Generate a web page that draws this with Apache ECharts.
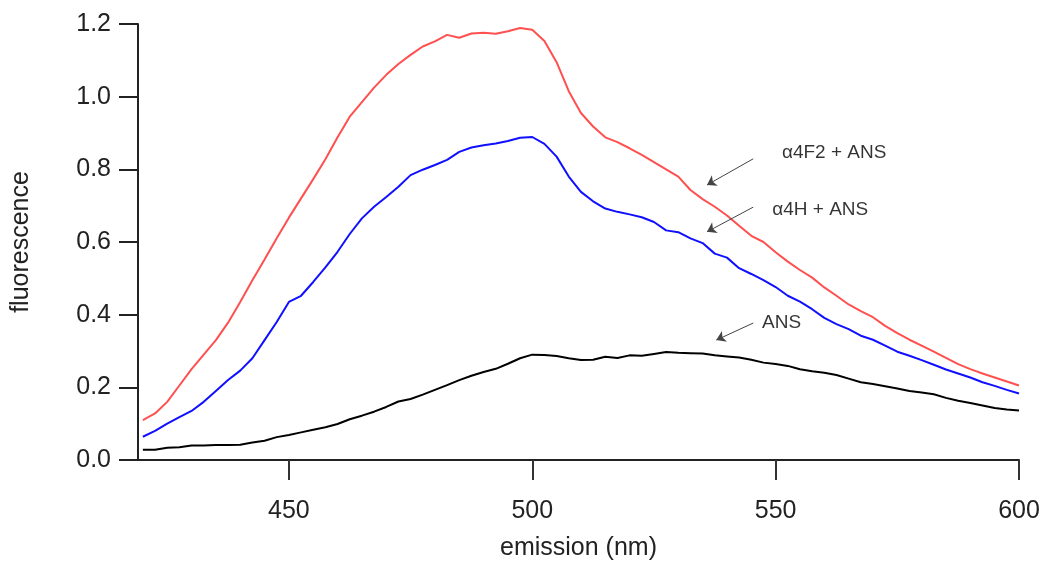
<!DOCTYPE html>
<html>
<head>
<meta charset="utf-8">
<script src="https://cdn.jsdelivr.net/npm/echarts@6/dist/echarts.min.js"></script>
<style>
  html, body { margin: 0; padding: 0; background: #fff; }
  #chart { width: 1047px; height: 561px; }
</style>
</head>
<body>
<div id="chart"></div>
<script>
// emission wavelength (nm), 2.5 nm steps
let wavelength = [420, 422.5, 425, 427.5, 430, 432.5, 435, 437.5, 440, 442.5, 445, 447.5,
    450, 452.5, 455, 457.5, 460, 462.5, 465, 467.5, 470, 472.5, 475, 477.5,
    480, 482.5, 485, 487.5, 490, 492.5, 495, 497.5, 500, 502.5, 505, 507.5,
    510, 512.5, 515, 517.5, 520, 522.5, 525, 527.5, 530, 532.5, 535, 537.5,
    540, 542.5, 545, 547.5, 550, 552.5, 555, 557.5, 560, 562.5, 565, 567.5,
    570, 572.5, 575, 577.5, 580, 582.5, 585, 587.5, 590, 592.5, 595, 597.5, 600]

// α4F2 + ANS (red)
let redValues = [0.110, 0.128, 0.160, 0.205, 0.250, 0.290, 0.330, 0.378, 0.435, 0.495, 0.552, 0.610,
    0.667, 0.720, 0.773, 0.828, 0.888, 0.945, 0.985, 1.025, 1.060, 1.090, 1.115, 1.138,
    1.152, 1.170, 1.162, 1.174, 1.176, 1.173, 1.180, 1.189, 1.184, 1.153, 1.095, 1.015,
    0.955, 0.918, 0.888, 0.875, 0.858, 0.840, 0.820, 0.800, 0.780, 0.743, 0.718, 0.697,
    0.673, 0.645, 0.617, 0.600, 0.572, 0.546, 0.523, 0.502, 0.475, 0.452, 0.428, 0.410,
    0.393, 0.369, 0.349, 0.331, 0.315, 0.298, 0.281, 0.264, 0.250, 0.238, 0.227, 0.216, 0.205]

// α4H + ANS (blue)
let blueValues = [0.064, 0.080, 0.100, 0.118, 0.135, 0.160, 0.190, 0.220, 0.246, 0.280, 0.330, 0.380,
    0.435, 0.452, 0.490, 0.530, 0.573, 0.622, 0.665, 0.697, 0.724, 0.752, 0.784, 0.799,
    0.812, 0.826, 0.848, 0.860, 0.866, 0.871, 0.878, 0.887, 0.889, 0.870, 0.835, 0.780,
    0.738, 0.712, 0.692, 0.683, 0.676, 0.668, 0.655, 0.632, 0.627, 0.610, 0.597, 0.568,
    0.557, 0.528, 0.512, 0.495, 0.476, 0.452, 0.436, 0.415, 0.391, 0.374, 0.360, 0.342,
    0.331, 0.315, 0.298, 0.287, 0.275, 0.262, 0.249, 0.238, 0.227, 0.214, 0.204, 0.193, 0.183]

// ANS alone (black)
let blackValues = [0.028, 0.028, 0.034, 0.035, 0.040, 0.040, 0.041, 0.041, 0.042, 0.048, 0.053, 0.063,
    0.069, 0.076, 0.083, 0.090, 0.099, 0.112, 0.122, 0.133, 0.146, 0.161, 0.168, 0.180,
    0.193, 0.206, 0.220, 0.232, 0.242, 0.251, 0.265, 0.280, 0.290, 0.289, 0.286, 0.280,
    0.275, 0.276, 0.284, 0.281, 0.288, 0.287, 0.292, 0.297, 0.295, 0.294, 0.293, 0.288,
    0.285, 0.282, 0.276, 0.268, 0.264, 0.259, 0.250, 0.244, 0.240, 0.234, 0.224, 0.214,
    0.209, 0.203, 0.197, 0.190, 0.186, 0.181, 0.171, 0.163, 0.157, 0.150, 0.143, 0.139, 0.136]

let xTicks = [450, 500, 550, 600]

// annotations: text anchor and arrow (from -> to), in data units
let annoText = ['α4F2 + ANS', 'α4H + ANS', 'ANS']
let annoX = [551.3, 549.3, 547.2]
let annoY = [0.845, 0.688, 0.377]
let arrowFrom = [[545.4, 0.829], [545.4, 0.696], [545.4, 0.377]]
let arrowTo = [[535.9, 0.757], [535.9, 0.628], [537.8, 0.330]]

function pairs(xs, ys) {
    let out = []
    for (let i = 0; i < xs.length; i++) {
        out.push([xs[i], ys[i]])
    }
    return out
}

let chart = echarts.init(document.querySelector('#chart'))
let font = 'Liberation Sans, Arial, sans-serif'

let annoData = []
for (let i = 0; i < annoText.length; i++) {
    annoData.push([annoX[i], annoY[i], annoText[i]])
}
let arrowData = []
for (let i = 0; i < arrowFrom.length; i++) {
    arrowData.push([{ coord: arrowFrom[i] }, { coord: arrowTo[i] }])
}

let option = {
    backgroundColor: '#fff',
    animation: false,
    grid: { left: 138, right: 28, top: 24, bottom: 101, outerBoundsMode: 'none' },
    xAxis: {
        type: 'value',
        min: 419,
        max: 600,
        offset: 4,
        name: 'emission (nm)',
        nameLocation: 'middle',
        nameGap: 72,
        nameTextStyle: { fontFamily: font, fontSize: 25, color: '#222' },
        axisLine: { lineStyle: { color: '#222', width: 2 } },
        axisTick: { length: 20, customValues: xTicks, lineStyle: { color: '#333', width: 2 } },
        axisLabel: { customValues: xTicks, margin: 35, fontFamily: font, fontSize: 25, color: '#222' },
        splitLine: { show: false }
    },
    yAxis: {
        type: 'value',
        min: 0,
        max: 1.2,
        interval: 0.2,
        name: 'fluorescence',
        nameLocation: 'middle',
        nameGap: 104,
        nameTextStyle: { fontFamily: font, fontSize: 25, color: '#222' },
        axisLine: { show: true, lineStyle: { color: '#222', width: 2 } },
        axisTick: { show: true, length: 19, lineStyle: { color: '#222', width: 2 } },
        axisLabel: {
            margin: 27, fontFamily: font, fontSize: 25, color: '#222',
            formatter: function (v) { return v.toFixed(1) }
        },
        splitLine: { show: false }
    },
    series: [
        {
            name: 'α4F2 + ANS',
            type: 'line',
            data: pairs(wavelength, redValues),
            showSymbol: false,
            lineStyle: { color: '#ff5050', width: 2 }
        },
        {
            name: 'α4H + ANS',
            type: 'line',
            data: pairs(wavelength, blueValues),
            showSymbol: false,
            lineStyle: { color: '#1010ff', width: 2 }
        },
        {
            name: 'ANS',
            type: 'line',
            data: pairs(wavelength, blackValues),
            showSymbol: false,
            lineStyle: { color: '#000', width: 2 }
        },
        {
            name: 'labels',
            type: 'scatter',
            data: annoData,
            symbolSize: 0,
            silent: true,
            label: {
                show: true,
                position: 'right',
                distance: 0,
                formatter: function (p) { return p.value[2] },
                fontFamily: font,
                fontSize: 19,
                color: '#000'
            },
            markLine: {
                silent: true,
                symbol: ['none', 'arrow'],
                symbolSize: 9,
                label: { show: false },
                lineStyle: { color: '#444', width: 1, type: 'solid' },
                itemStyle: { color: '#000' },
                data: arrowData
            }
        }
    ]
}

chart.setOption(option)
</script>
</body>
</html>
